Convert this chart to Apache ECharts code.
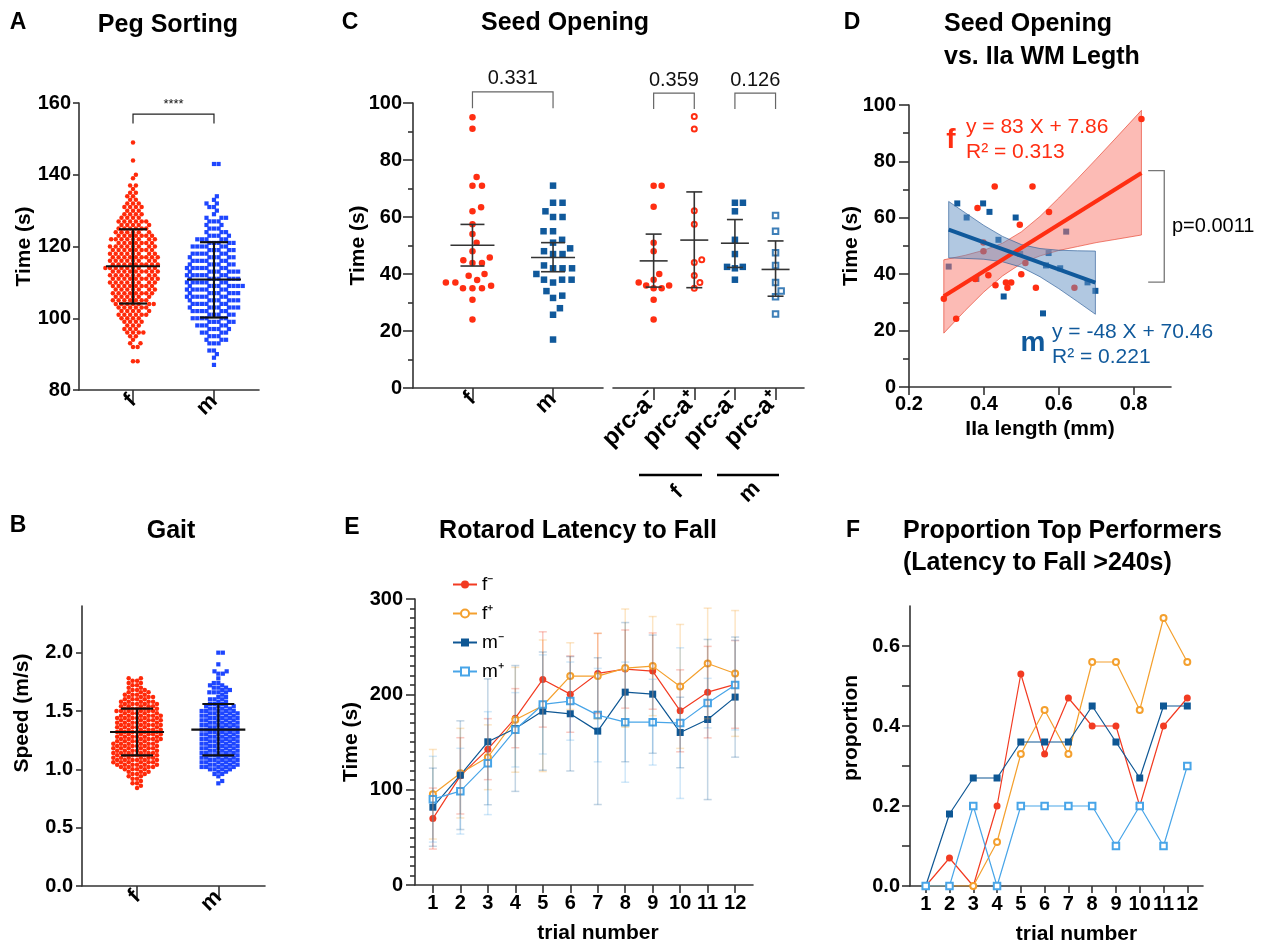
<!DOCTYPE html>
<html>
<head>
<meta charset="utf-8">
<script src="https://cdn.jsdelivr.net/npm/echarts@6/dist/echarts.min.js"></script>
<style>
  html, body { margin: 0; padding: 0; background: #fff; }
  #main { width: 1267px; height: 947px; }
</style>
</head>
<body>
<div id="main"></div>
<script>
const FONT = 'Liberation Sans, Arial, Helvetica, sans-serif';

// ---- A: peg sorting time (s) -> number of mice at each value
const pegCats = ['f', 'm'];
const pegFVals = [88,92,93,94,95,96,97,98,99,100,101,102,103,104,105,106,107,108,109,110,111,112,113,114,115,116,117,118,119,120,121,122,123,124,125,126,127,128,129,130,131,132,133,134,135,136,137,139,140,144,149];
const pegFCounts = [2,2,2,1,2,4,3,3,4,4,6,5,6,7,7,6,8,7,8,8,9,8,9,9,9,8,9,8,8,8,7,8,7,6,6,5,6,4,4,3,4,3,2,2,2,1,2,1,1,1,1];
const pegMVals = [87,89,90,91,93,94,95,96,97,98,99,100,101,102,103,104,105,106,107,108,109,110,111,112,113,114,115,116,117,118,119,120,121,122,123,124,125,126,127,128,129,130,131,132,133,134,143];
const pegMCounts = [1,1,1,2,3,3,3,4,4,5,5,6,5,6,7,6,7,7,7,7,8,7,7,7,7,7,6,6,6,6,5,6,5,5,4,3,3,2,3,3,1,1,2,2,1,1,2];
const pegMean = [114.5, 110.8];
const pegLow = [104.1, 100.2];
const pegHigh = [124.8, 121.2];

// ---- B: gait speed (m/s) -> counts
const gaitCats = ['f', 'm'];
const gaitFVals = [0.84,0.86,0.88,0.90,0.92,0.94,0.96,0.98,1.00,1.02,1.04,1.06,1.08,1.10,1.12,1.14,1.16,1.18,1.20,1.22,1.24,1.26,1.28,1.30,1.32,1.34,1.36,1.38,1.40,1.42,1.44,1.46,1.48,1.50,1.52,1.54,1.56,1.58,1.60,1.62,1.64,1.66,1.68,1.70,1.72,1.74,1.76,1.78];
const gaitFCounts = [1,1,2,1,2,2,3,3,4,5,6,6,6,6,6,6,6,6,6,6,6,6,6,6,6,6,6,6,6,6,6,6,5,6,5,5,5,5,4,4,4,3,3,2,2,2,2,2];
const gaitMVals = [0.88,0.90,0.94,0.96,0.98,1.00,1.02,1.04,1.06,1.08,1.10,1.12,1.14,1.16,1.18,1.20,1.22,1.24,1.26,1.28,1.30,1.32,1.34,1.36,1.38,1.40,1.42,1.44,1.46,1.48,1.50,1.52,1.54,1.56,1.58,1.60,1.62,1.64,1.66,1.68,1.70,1.72,1.74,1.78,1.82,1.84,1.90,2.00];
const gaitMCounts = [1,1,1,2,2,4,5,5,5,5,5,5,5,5,5,5,5,5,5,5,5,5,5,5,5,5,5,5,5,5,5,4,4,3,2,3,2,1,4,2,3,2,2,1,2,2,1,2];
const gaitMean = [1.32, 1.34];
const gaitLow = [1.12, 1.12];
const gaitHigh = [1.52, 1.56];
const gaitTicks = [0, 0.5, 1.0, 1.5, 2.0];

// ---- C: seed opening time (s)
const seedCats = ['f', 'm'];
const seedF = [95,91,74,71,71,63.4,62,57.5,54,51,48,45.8,44.8,43.9,43.9,40,39.4,37.9,37,37,35.9,35,35,35,31,24];
const seedM = [71,65,65,62,60,60,55,55,52,51,49,48,47,47,43,42,42,42,40,38,38,38,37,34,32.4,31.6,28,25.7,17];
const seedMean = [50.1, 45.8];
const seedLow = [42.8, 40.8];
const seedHigh = [57.4, 51.0];
const prcCats = ['prc-a\u207B', 'prc-a\u207A', 'prc-a\u207B', 'prc-a\u207A'];
const prcFneg = [71,71,63.6,51,48,40,38,37,36,36,35,35,31,24];
const prcFpos = [95.3,90.9,62.2,57.5,45,44,39.5,37,35];
const prcMneg = [65,65,62,52,47,42.5,42.5,42,38];
const prcMpos = [60.5,55,47.5,43,37,34,32,26];
const prcMean = [44.6, 51.9, 50.8, 41.6];
const prcLow = [35.4, 35.2, 42.3, 32.2];
const prcHigh = [54.0, 68.8, 59.1, 51.6];

// ---- D: seed opening vs IIa length
const dFemX = [0.293,0.326,0.377,0.383,0.399,0.399,0.412,0.429,0.431,0.459,0.463,0.473,0.496,0.500,0.511,0.530,0.539,0.574,0.642,0.821];
const dFemY = [31.3,24.2,38.3,63.5,51.2,48.1,39.6,71.1,36.1,37.1,35.2,37.1,57.5,40.0,44.0,71.1,35.2,62.1,35.2,95.0];
const dMalX = [0.306,0.329,0.354,0.380,0.398,0.415,0.439,0.453,0.485,0.497,0.558,0.566,0.573,0.604,0.620,0.677,0.698];
const dMalY = [42.7,65.1,60.1,38.3,65.1,62.1,52.2,32.1,60.1,47.2,26.1,43.1,47.5,42.1,55.1,37.1,34.1];
const dFitFX = [0.293, 0.821], dFitFY = [32.2, 75.9];
const dFitMX = [0.306, 0.698], dFitMY = [55.8, 37.0];
const dBandFX = [0.293,0.35,0.40,0.45,0.50,0.55,0.60,0.65,0.70,0.75,0.821];
const dBandFHi = [45.1,46.7,48.5,51.0,55.0,60.5,67.0,73.8,80.8,87.9,98.1];
const dBandFLo = [19.1,27.1,33.7,39.4,43.8,46.5,48.4,49.8,51.2,52.3,53.9];
const dBandMX = [0.306,0.35,0.40,0.45,0.50,0.55,0.60,0.65,0.698];
const dBandMHi = [65.8,61.8,57.3,53.4,50.5,49.1,48.5,48.3,48.2];
const dBandMLo = [45.8,45.6,45.3,44.4,42.5,39.1,34.9,30.3,25.8];
const dTicks = [0.2, 0.4, 0.6, 0.8];

// ---- E: rotarod latency (s), F: proportion > 240 s
const trials = [1,2,3,4,5,6,7,8,9,10,11,12];
const rotFneg = [69.7,114.5,142.5,175,215.6,200.2,221.9,226.5,224.4,182.7,202.3,210.4];
const rotFpos = [95.2,117.3,134,173.3,188,219.1,219.1,227.5,229.6,208.3,232.4,221.9];
const rotMneg = [81.6,115.2,150.2,164.2,182.4,179.6,161.4,202.3,200.2,160,173.6,197.1];
const rotMpos = [90,98.4,127.8,162.8,189.4,192.9,178.2,170.8,170.8,169.8,190.8,209.7];
const sdFneg = [32,40,32,31,50,40,42,41,40,43,48,46];
const sdFpos = [47,47,34,55,69,35,45,62,52,65,58,66];
const sdMneg = [41,57,66,66,62,60,77,73,62,37,84,63];
const sdMpos = [45,45,54,39,52,41,49,63,45,79,26,47];
const propFneg = [0,0.07,0,0.2,0.53,0.33,0.47,0.4,0.4,0.2,0.4,0.47];
const propFpos = [0,0,0,0.11,0.33,0.44,0.33,0.56,0.56,0.44,0.67,0.56];
const propMneg = [0,0.18,0.27,0.27,0.36,0.36,0.36,0.45,0.36,0.27,0.45,0.45];
const propMpos = [0,0,0.2,0,0.2,0.2,0.2,0.2,0.1,0.2,0.1,0.3];
const propTicks = [0, 0.1, 0.2, 0.3, 0.4, 0.5, 0.6];
const propLabels = [0, 0.2, 0.4, 0.6];
const groupNames = ['f\u207B', 'f\u207A', 'm\u207B', 'm\u207A'];

// ---- layout
const grids = {
  A: { left: 79, top: 103, width: 180, height: 287 },
  B: { left: 82, top: 606, width: 183, height: 280 },
  C1: { left: 413, top: 103, width: 190, height: 285 },
  C2: { left: 613, top: 103, width: 191, height: 285 },
  D: { left: 909, top: 105, width: 262, height: 282 },
  E: { left: 415, top: 599, width: 338, height: 286 },
  F: { left: 910, top: 606, width: 293, height: 280 }
};
const keys = ['A', 'B', 'C1', 'C2', 'D', 'E', 'F'];
const xr = { A: [0.333, 2.556], B: [0.323, 2.574], C1: [0.262, 2.62], C2: [0, 4.7], D: [0.2, 0.9], E: [0.35, 12.65], F: [0.34, 12.66] };
const yr = { A: [80, 160], B: [0, 2.4], C1: [0, 100], C2: [0, 100], D: [0, 100], E: [0, 300], F: [0, 0.7] };

const RED = '#FF2A0A', BLUE = '#1E46FF', SEEDRED = '#FF2E12', SEEDBLUE = '#10599B';
const cFneg = '#F23B22', cFpos = '#F4A02E', cMneg = '#0E5794', cMpos = '#48A5E8';
const AX = { color: '#333', width: 1.6 };

function expand(vals, counts) {
  const out = [];
  vals.forEach((v, i) => { for (let k = 0; k < counts[i]; k++) out.push(v); });
  return out;
}

// beeswarm placement in pixel space, returned in data units
function swarm(values, center, key, d) {
  const px = grids[key].width / (xr[key][1] - xr[key][0]);
  const py = grids[key].height / (yr[key][1] - yr[key][0]);
  const placed = [];
  return values.slice().sort((a, b) => a - b).map(v => {
    const y = v * py;
    const near = placed.filter(p => Math.abs(p.y - y) < d);
    const cands = [0];
    near.forEach(p => {
      const dx = Math.sqrt(d * d - (p.y - y) * (p.y - y));
      cands.push(p.x + dx, p.x - dx);
    });
    cands.sort((a, b) => Math.abs(a) - Math.abs(b));
    let x = cands.find(c => near.every(p => (p.x - c) * (p.x - c) + (p.y - y) * (p.y - y) >= d * d - 1e-6));
    if (x === undefined) x = cands[cands.length - 1] + d;
    placed.push({ x, y });
    return [center + x / px, v];
  });
}

function statsData(mean, low, high) {
  return mean.map((m, i) => [i + 1, m, low[i], high[i]]);
}

function errorBars(gi, data, meanHalf, capHalf, color, width, opacity) {
  return {
    type: 'custom', xAxisIndex: gi, yAxisIndex: gi, data, z: 5, silent: true, clip: false,
    renderItem(params, api) {
      const x = api.value(0);
      const pm = api.coord([x, api.value(1)]);
      const pl = api.coord([x, api.value(2)]);
      const ph = api.coord([x, api.value(3)]);
      const style = { stroke: color, lineWidth: width, opacity: opacity, fill: 'none' };
      const children = [
        { type: 'line', shape: { x1: pl[0], y1: pl[1], x2: ph[0], y2: ph[1] }, style },
        { type: 'line', shape: { x1: pl[0] - capHalf, y1: pl[1], x2: pl[0] + capHalf, y2: pl[1] }, style },
        { type: 'line', shape: { x1: ph[0] - capHalf, y1: ph[1], x2: ph[0] + capHalf, y2: ph[1] }, style }
      ];
      if (meanHalf) {
        children.push({ type: 'line', shape: { x1: pm[0] - meanHalf, y1: pm[1], x2: pm[0] + meanHalf, y2: pm[1] }, style });
      }
      return { type: 'group', children };
    }
  };
}

// bracket: [x1, x2, yTop, yEnd]
function bracket(gi, data, labels, fontSize, color) {
  return {
    type: 'custom', xAxisIndex: gi, yAxisIndex: gi, data, z: 6, silent: true, clip: false,
    renderItem(params, api) {
      const a = api.coord([api.value(0), api.value(3)]);
      const b = api.coord([api.value(0), api.value(2)]);
      const c = api.coord([api.value(1), api.value(2)]);
      const d = api.coord([api.value(1), api.value(3)]);
      return {
        type: 'group', children: [
          { type: 'polyline', shape: { points: [a, b, c, d] }, style: { stroke: color, lineWidth: 1.2, fill: 'none' } },
          { type: 'text', x: (b[0] + c[0]) / 2, y: b[1] - 3,
            style: { text: labels[params.dataIndex], fill: '#111', fontSize, fontFamily: FONT, align: 'center', verticalAlign: 'bottom' } }
        ]
      };
    }
  };
}

function band(gi, xs, hi, lo, fill, stroke, z) {
  return {
    type: 'custom', xAxisIndex: gi, yAxisIndex: gi, data: [[xs[0], hi[0]]], z, silent: true,
    renderItem(params, api) {
      const pts = [];
      xs.forEach((x, i) => pts.push(api.coord([x, hi[i]])));
      for (let i = xs.length - 1; i >= 0; i--) pts.push(api.coord([xs[i], lo[i]]));
      return { type: 'polygon', shape: { points: pts }, style: { fill, stroke, lineWidth: 0.8 } };
    }
  };
}

function scatter(gi, data, symbol, size, color, z, border) {
  const s = {
    type: 'scatter', xAxisIndex: gi, yAxisIndex: gi, data, symbol, symbolSize: size, z: z || 2,
    itemStyle: { color, opacity: 1 }, silent: true
  };
  if (border) s.itemStyle = { color, borderColor: color, borderWidth: border, opacity: 1 };
  return s;
}

function lineSeries(gi, name, ys, color, symbol, size) {
  return {
    type: 'line', name, xAxisIndex: gi, yAxisIndex: gi, z: 4,
    data: trials.map((t, i) => [t, ys[i]]),
    symbol, symbolSize: size, showSymbol: true,
    lineStyle: { color, width: 1.2 },
    itemStyle: { color, borderColor: color, borderWidth: symbol.indexOf('empty') === 0 ? 1.5 : 0 },
    emphasis: { disabled: true }
  };
}

const labFont = { color: '#000', fontFamily: FONT, fontWeight: 'bold', fontSize: 20 };
const nameFont = { color: '#000', fontFamily: FONT, fontWeight: 'bold', fontSize: 21 };

function xAxisCat(gi, key, vals, cats, tickLen, fontSize) {
  return {
    gridIndex: gi, type: 'value', min: xr[key][0], max: xr[key][1],
    splitLine: { show: false },
    axisLine: { show: true, onZero: false, lineStyle: AX },
    axisTick: { show: true, length: tickLen, customValues: vals, lineStyle: AX },
    axisLabel: Object.assign({}, labFont, {
      customValues: vals, rotate: 45, margin: 8, fontSize,
      formatter: v => cats[Math.round(v) - 1]
    })
  };
}

function yAxisVal(gi, key, o) {
  const ax = {
    gridIndex: gi, type: 'value', min: yr[key][0], max: yr[key][1],
    splitLine: { show: false },
    axisLine: { show: true, onZero: false, lineStyle: AX },
    axisTick: { show: true, length: o.tick, lineStyle: AX },
    axisLabel: Object.assign({}, labFont, { margin: o.margin }),
    name: o.name, nameLocation: 'middle', nameGap: o.gap, nameMoveOverlap: false,
    nameTextStyle: Object.assign({}, nameFont, o.pad ? { padding: o.pad } : {})
  };
  if (o.interval) ax.interval = o.interval;
  if (o.minor) ax.minorTick = { show: true, splitNumber: o.minor, length: o.minorLen, lineStyle: AX };
  if (o.ticks) ax.axisTick.customValues = o.ticks;
  if (o.labels) { ax.axisLabel.customValues = o.labels; ax.axisLabel.formatter = v => v.toFixed(1); }
  return ax;
}

const xAxes = [
  xAxisCat(0, 'A', [1, 2], pegCats, 12, 22),
  xAxisCat(1, 'B', [1, 2], gaitCats, 12, 22),
  xAxisCat(2, 'C1', [1, 2], seedCats, 12, 22),
  xAxisCat(3, 'C2', [1, 2, 3, 4], prcCats, 12, 24),
  {
    gridIndex: 4, type: 'value', min: xr.D[0], max: xr.D[1], splitLine: { show: false },
    axisLine: { show: true, onZero: false, lineStyle: AX },
    axisTick: { show: true, length: 8, customValues: dTicks, lineStyle: AX },
    axisLabel: Object.assign({}, labFont, { customValues: dTicks, margin: 7, formatter: v => v.toFixed(1) }),
    name: 'IIa length (mm)', nameLocation: 'middle', nameGap: 32, nameMoveOverlap: false, nameTextStyle: nameFont
  },
  {
    gridIndex: 5, type: 'value', min: xr.E[0], max: xr.E[1], splitLine: { show: false },
    axisLine: { show: true, onZero: false, lineStyle: AX },
    axisTick: { show: true, length: 8, customValues: trials, lineStyle: AX },
    axisLabel: Object.assign({}, labFont, { customValues: trials, margin: 8, formatter: v => String(Math.round(v)) }),
    name: 'trial number', nameLocation: 'middle', nameGap: 38, nameMoveOverlap: false,
    nameTextStyle: Object.assign({}, nameFont, { padding: [0, 0, 0, 28] })
  },
  {
    gridIndex: 6, type: 'value', min: xr.F[0], max: xr.F[1], splitLine: { show: false },
    axisLine: { show: true, onZero: false, lineStyle: AX },
    axisTick: { show: true, length: 7, customValues: trials, lineStyle: AX },
    axisLabel: Object.assign({}, labFont, { customValues: trials, margin: 8, formatter: v => String(Math.round(v)) }),
    name: 'trial number', nameLocation: 'middle', nameGap: 38, nameMoveOverlap: false,
    nameTextStyle: Object.assign({}, nameFont, { padding: [0, 0, 0, 40] })
  }
];

const c2y = yAxisVal(3, 'C2', { tick: 10, margin: 10, gap: 40, interval: 20 });
c2y.show = false;

const yAxes = [
  yAxisVal(0, 'A', { tick: 6, margin: 8, gap: 44, interval: 20, name: 'Time (s)' }),
  yAxisVal(1, 'B', { tick: 6, margin: 9, gap: 49, name: 'Speed (m/s)', ticks: gaitTicks, labels: gaitTicks, pad: [0, 0, 0, 66] }),
  yAxisVal(2, 'C1', { tick: 10, margin: 11, gap: 44, interval: 20, minor: 2, minorLen: 5, name: 'Time (s)' }),
  c2y,
  yAxisVal(4, 'D', { tick: 10, margin: 13, gap: 47, interval: 20, minor: 2, minorLen: 6, name: 'Time (s)' }),
  yAxisVal(5, 'E', { tick: 9, margin: 12, gap: 53, interval: 100, minor: 10, minorLen: 5, name: 'Time (s)' }),
  yAxisVal(6, 'F', { tick: 8, margin: 10, gap: 48, name: 'proportion', ticks: propTicks, labels: propLabels, pad: [0, 0, 0, 36] })
];

function txt(x, y, text, size, weight, color, align, extra) {
  return {
    type: 'text', x, y, z: 100, silent: true,
    style: Object.assign({ text, fontSize: size, fontWeight: weight, fontFamily: FONT, fill: color, align, verticalAlign: 'middle' }, extra || {})
  };
}

const graphics = [
  txt(18, 23, 'A', 23, 'bold', '#000', 'center'),
  txt(168, 25, 'Peg Sorting', 25, 'bold', '#000', 'center'),
  txt(18, 526, 'B', 23, 'bold', '#000', 'center'),
  txt(171, 531, 'Gait', 25, 'bold', '#000', 'center'),
  txt(350, 23, 'C', 23, 'bold', '#000', 'center'),
  txt(565, 23, 'Seed Opening', 25, 'bold', '#000', 'center'),
  txt(852, 23, 'D', 23, 'bold', '#000', 'center'),
  txt(944, 24, 'Seed Opening', 25, 'bold', '#000', 'left'),
  txt(944, 57, 'vs. IIa WM Legth', 25, 'bold', '#000', 'left'),
  txt(352, 528, 'E', 23, 'bold', '#000', 'center'),
  txt(578, 531, 'Rotarod Latency to Fall', 25, 'bold', '#000', 'center'),
  txt(853, 531, 'F', 23, 'bold', '#000', 'center'),
  txt(903, 531, 'Proportion Top Performers', 25, 'bold', '#000', 'left'),
  txt(903, 563, '(Latency to Fall >240s)', 25, 'bold', '#000', 'left'),
  // D annotations
  txt(951, 140, 'f', 28, 'bold', SEEDRED, 'center'),
  txt(966, 127, 'y = 83 X + 7.86', 21, 'normal', SEEDRED, 'left'),
  txt(966, 152, 'R\u00B2 = 0.313', 21, 'normal', SEEDRED, 'left'),
  txt(1033, 343, 'm', 28, 'bold', SEEDBLUE, 'center'),
  txt(1052, 332, 'y = -48 X + 70.46', 21, 'normal', SEEDBLUE, 'left'),
  txt(1052, 357, 'R\u00B2 = 0.221', 21, 'normal', SEEDBLUE, 'left'),
  txt(1172, 226, 'p=0.0011', 20, 'normal', '#000', 'left'),
  // C grouping under prc-a labels
  { type: 'line', z: 100, silent: true, shape: { x1: 639, y1: 475, x2: 702, y2: 475 }, style: { stroke: '#000', lineWidth: 2.5 } },
  { type: 'line', z: 100, silent: true, shape: { x1: 717, y1: 475, x2: 779, y2: 475 }, style: { stroke: '#000', lineWidth: 2.5 } },
  Object.assign(txt(677, 492, 'f', 22, 'bold', '#000', 'center'), { rotation: Math.PI / 4 }),
  Object.assign(txt(750, 492, 'm', 22, 'bold', '#000', 'center'), { rotation: Math.PI / 4 })
];

const series = [
  // A
  scatter(0, swarm(expand(pegFVals, pegFCounts), 1, 'A', 4.6), 'circle', 4.5, RED),
  scatter(0, swarm(expand(pegMVals, pegMCounts), 2, 'A', 4.6), 'rect', 4.2, BLUE),
  errorBars(0, statsData(pegMean, pegLow, pegHigh), 27, 14, '#111', 2.2, 1),
  bracket(0, [[1, 2, 156.9, 154.3]], ['****'], 13, '#222'),
  // B
  scatter(1, swarm(expand(gaitFVals, gaitFCounts), 1, 'B', 4.5), 'circle', 4.5, RED),
  scatter(1, swarm(expand(gaitMVals, gaitMCounts), 2, 'B', 4.5), 'rect', 4.2, BLUE),
  errorBars(1, statsData(gaitMean, gaitLow, gaitHigh), 27, 16, '#111', 2.2, 1),
  // C1
  scatter(2, swarm(seedF, 1, 'C1', 9.5), 'circle', 6.5, SEEDRED),
  scatter(2, swarm(seedM, 2, 'C1', 9.5), 'rect', 6.5, SEEDBLUE),
  errorBars(2, statsData(seedMean, seedLow, seedHigh), 22, 12, '#333', 1.6, 1),
  bracket(2, [[1, 2, 103.9, 98.2]], ['0.331'], 20, '#666'),
  // C2
  scatter(3, swarm(prcFneg, 1, 'C2', 8), 'circle', 6.5, SEEDRED),
  scatter(3, swarm(prcFpos, 2, 'C2', 8), 'emptyCircle', 5, SEEDRED, 2, 1.6),
  scatter(3, swarm(prcMneg, 3, 'C2', 8), 'rect', 6.5, SEEDBLUE),
  scatter(3, swarm(prcMpos, 4, 'C2', 8), 'emptyRect', 5.5, '#3E7FB8', 2, 1.2),
  errorBars(3, statsData(prcMean, prcLow, prcHigh), 14, 8, '#333', 1.6, 1),
  bracket(3, [[1, 2, 103.5, 97.9], [3, 4, 103.5, 97.9]], ['0.359', '0.126'], 20, '#666'),
  // D
  scatter(4, dMalX.map((x, i) => [x, dMalY[i]]), 'rect', 6, SEEDBLUE, 1),
  band(4, dBandFX, dBandFHi, dBandFLo, 'rgba(250,120,108,0.5)', 'rgba(230,60,40,0.8)', 2),
  scatter(4, dFemX.map((x, i) => [x, dFemY[i]]), 'circle', 6.5, SEEDRED, 3),
  band(4, dBandMX, dBandMHi, dBandMLo, 'rgba(100,145,195,0.5)', 'rgba(40,90,150,0.8)', 4),
  {
    type: 'line', xAxisIndex: 4, yAxisIndex: 4, z: 5, silent: true, symbol: 'none',
    data: dFitFX.map((x, i) => [x, dFitFY[i]]), lineStyle: { color: SEEDRED, width: 4 }
  },
  {
    type: 'line', xAxisIndex: 4, yAxisIndex: 4, z: 5, silent: true, symbol: 'none',
    data: dFitMX.map((x, i) => [x, dFitMY[i]]), lineStyle: { color: SEEDBLUE, width: 4 }
  },
  {
    type: 'custom', xAxisIndex: 4, yAxisIndex: 4, data: [[0.839, 0.882, 76.7, 37.2]], clip: false, silent: true, z: 6,
    renderItem(params, api) {
      const p1 = api.coord([api.value(0), api.value(2)]);
      const p2 = api.coord([api.value(1), api.value(2)]);
      const p3 = api.coord([api.value(1), api.value(3)]);
      const p4 = api.coord([api.value(0), api.value(3)]);
      return { type: 'polyline', shape: { points: [p1, p2, p3, p4] }, style: { stroke: '#777', lineWidth: 1.3, fill: 'none' } };
    }
  },
  // E
  errorBars(5, trials.map((t, i) => [t, rotFneg[i], rotFneg[i] - sdFneg[i], rotFneg[i] + sdFneg[i]]), 0, 4, cFneg, 1.5, 0.28),
  errorBars(5, trials.map((t, i) => [t, rotFpos[i], rotFpos[i] - sdFpos[i], rotFpos[i] + sdFpos[i]]), 0, 4, cFpos, 1.5, 0.28),
  errorBars(5, trials.map((t, i) => [t, rotMneg[i], rotMneg[i] - sdMneg[i], rotMneg[i] + sdMneg[i]]), 0, 4, cMneg, 1.5, 0.25),
  errorBars(5, trials.map((t, i) => [t, rotMpos[i], rotMpos[i] - sdMpos[i], rotMpos[i] + sdMpos[i]]), 0, 4, cMpos, 1.5, 0.25),
  lineSeries(5, groupNames[0], rotFneg, cFneg, 'circle', 7),
  lineSeries(5, groupNames[1], rotFpos, cFpos, 'emptyCircle', 6),
  lineSeries(5, groupNames[2], rotMneg, cMneg, 'rect', 7),
  lineSeries(5, groupNames[3], rotMpos, cMpos, 'emptyRect', 6.5),
  // F
  lineSeries(6, groupNames[0], propFneg, cFneg, 'circle', 7),
  lineSeries(6, groupNames[1], propFpos, cFpos, 'emptyCircle', 6),
  lineSeries(6, groupNames[2], propMneg, cMneg, 'rect', 7),
  lineSeries(6, groupNames[3], propMpos, cMpos, 'emptyRect', 6.5)
];

const chart = echarts.init(document.getElementById('main'), null, { renderer: 'canvas' });
chart.setOption({
  backgroundColor: '#ffffff',
  animation: false,
  grid: keys.map(k => Object.assign({ containLabel: false, outerBoundsMode: 'none' }, grids[k])),
  xAxis: xAxes,
  yAxis: yAxes,
  legend: {
    data: groupNames, orient: 'vertical', left: 447, top: 570, selectedMode: false,
    itemWidth: 24, itemHeight: 10, itemGap: 10,
    textStyle: { fontFamily: FONT, fontSize: 19, color: '#000' }
  },
  graphic: graphics,
  series
});
</script>
</body>
</html>
